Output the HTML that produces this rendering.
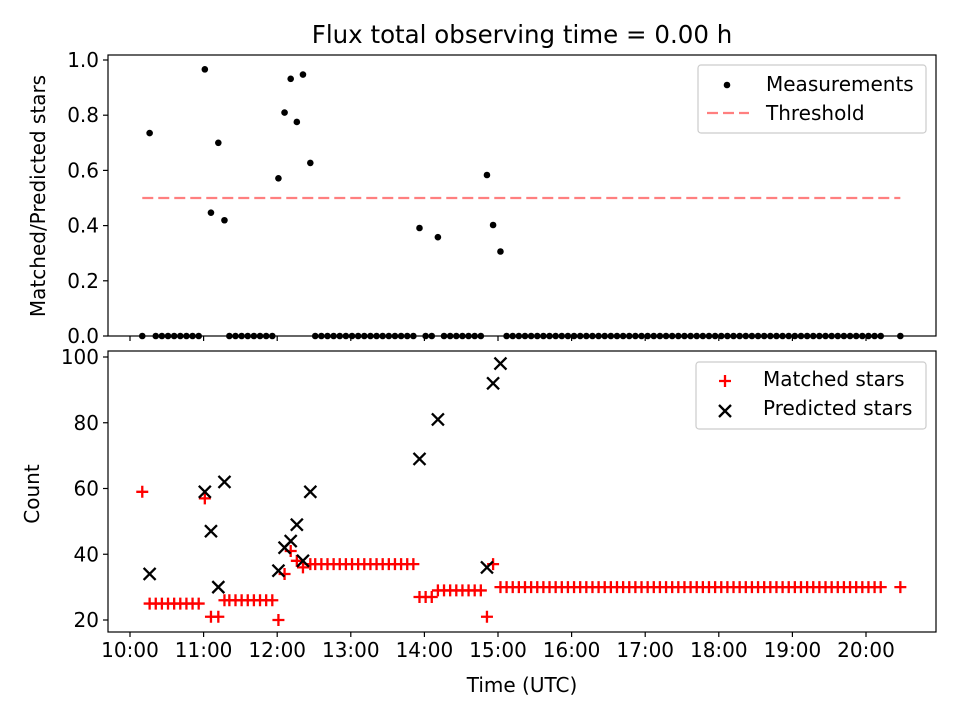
<!DOCTYPE html>
<html><head><meta charset="utf-8">
<style>
html,body{margin:0;padding:0;background:#fff;}
svg{display:block;font-family:"DejaVu Sans","Liberation Sans",sans-serif;}
</style></head>
<body>
<svg id="chart" width="960" height="720" viewBox="0 0 960 720">
<text x="522" y="43" font-size="24.5" text-anchor="middle">Flux total observing time = 0.00 h</text>
<g id="topPanel"></g>
<g id="botPanel"></g>
</svg>
<script>
// minutes after 10:00 UTC
const times = [10,16,21,26,31,36,41,46,51,56,61,66,72,77,81,86,91,96,101,106,111,116,121,126,131,136,141,147,151,156,161,166,171,176,181,186,191,196,201,206,211,216,221,226,231,236,241,246,251,256,261,266,271,276,281,286,291,296,302,
307,312,317,322,327,332,337,342,347,352,357,362,367,372,377,382,387,392,397,402,407,412,417,422,427,432,437,442,447,452,457,462,467,472,477,482,487,492,497,502,507,512,517,522,527,532,537,542,547,552,557,562,567,572,577,582,587,592,597,602,607,612,628];
const matched = [59,25,25,25,25,25,25,25,25,25,57,21,21,26,26,26,26,26,26,26,26,26,20,34,41,38,36,37,37,37,37,37,37,37,37,37,37,37,37,37,37,37,37,37,37,27,27,27,29,29,29,29,29,29,29,29,21,37,30,
30,30,30,30,30,30,30,30,30,30,30,30,30,30,30,30,30,30,30,30,30,30,30,30,30,30,30,30,30,30,30,30,30,30,30,30,30,30,30,30,30,30,30,30,30,30,30,30,30,30,30,30,30,30,30,30,30,30,30,30,30,30,30];
const predicted = [null,34,null,null,null,null,null,null,null,null,59,47,30,62,null,null,null,null,null,null,null,null,35,42,44,49,38,59,null,null,null,null,null,null,null,null,null,null,null,null,null,null,null,null,null,69,null,null,81,null,null,null,null,null,null,null,36,92,98];
const threshold = 0.5;
const yTicksTop = [0.0,0.2,0.4,0.6,0.8,1.0];
const yTicksBot = [20,40,60,80,100];
const xTickLabels = ["10:00","11:00","12:00","13:00","14:00","15:00","16:00","17:00","18:00","19:00","20:00"];

const NS="http://www.w3.org/2000/svg";
const L=108,R=936,FS=20;
const xS=m=>130+m*73.6/60;
const yTop=v=>336-v*276;
const yBot=v=>620-(v-20)*3.2875;
function mk(tag,attrs,parent){const e=document.createElementNS(NS,tag);for(const k in attrs)e.setAttribute(k,attrs[k]);parent.appendChild(e);return e;}
const gTop=document.getElementById('topPanel'), gBot=document.getElementById('botPanel');

function frame(g,y0,y1,name){
  const r=mk('rect',{x:L,y:y0,width:R-L,height:y1-y0,fill:'none',stroke:'#000','stroke-width':1.2},g);
  
  
  xTickLabels.forEach((lab,i)=>{
    const x=xS(i*60);
    const t=mk('line',{x1:x,x2:x,y1:y1,y2:y1+5,stroke:'#000','stroke-width':1.2},g);
    
    
  });
}
frame(gTop,55,336,'ratio-axes-frame');
frame(gBot,351,632,'count-axes-frame');

yTicksTop.forEach(v=>{
  const y=yTop(v);
  const l=mk('line',{x1:L-5,x2:L,y1:y,y2:y,stroke:'#000','stroke-width':1.2},gTop);
  
  
  const t=mk('text',{x:L-9,y:y+7,'font-size':FS,'text-anchor':'end'},gTop);
  t.textContent=v.toFixed(1);
  
  
});
yTicksBot.forEach(v=>{
  const y=yBot(v);
  const l=mk('line',{x1:L-5,x2:L,y1:y,y2:y,stroke:'#000','stroke-width':1.2},gBot);
  
  
  const t=mk('text',{x:L-9,y:y+7,'font-size':FS,'text-anchor':'end'},gBot);
  t.textContent=String(v);
  
  
});
xTickLabels.forEach((lab,i)=>{
  const t=mk('text',{x:xS(i*60),y:657,'font-size':FS,'text-anchor':'middle'},gBot);
  t.textContent=lab;
  
  
});
let t;
t=mk('text',{x:522,y:692,'font-size':FS,'text-anchor':'middle'},gBot);t.textContent='Time (UTC)';


t=mk('text',{x:0,y:0,'font-size':FS,'text-anchor':'middle',transform:'translate(45,196) rotate(-90)'},gTop);t.textContent='Matched/Predicted stars';


t=mk('text',{x:0,y:0,'font-size':FS,'text-anchor':'middle',transform:'translate(39,494) rotate(-90)'},gBot);t.textContent='Count';



// threshold
const th=mk('line',{x1:xS(times[0]),x2:xS(times[times.length-1]),y1:yTop(threshold),y2:yTop(threshold),stroke:'#ff7f7f','stroke-width':2.2,'stroke-dasharray':'11,5'},gTop);



// measurements
times.forEach((m,i)=>{
  const p=predicted[i];
  const ratio=(p!=null)?matched[i]/p:0;
  const c=mk('circle',{cx:xS(m),cy:yTop(ratio),r:3.3,fill:'#000'},gTop);
  
  
});
function plus(g,x,y,col,name){
  const p=mk('path',{d:`M${x-6},${y}H${x+6}M${x},${y-6}V${y+6}`,stroke:col,'stroke-width':2.3,fill:'none'},g);
  
  
}
function cross(g,x,y,name){
  const p=mk('path',{d:`M${x-6},${y-6}L${x+6},${y+6}M${x-6},${y+6}L${x+6},${y-6}`,stroke:'#000','stroke-width':2.3,fill:'none'},g);
  
  
}
times.forEach((m,i)=>plus(gBot,xS(m),yBot(matched[i]),'#f00','matched-marker'));
times.forEach((m,i)=>{const p=predicted[i];if(p!=null)cross(gBot,xS(m),yBot(p),'predicted-marker');});

// legends
function legend(g,x,y,w,h,name){
  const r=mk('rect',{x:x,y:y,width:w,height:h,rx:3,fill:'#fff','fill-opacity':0.8,stroke:'#ccc','stroke-width':1.2},g);
  
  
}
legend(gTop,698,65,228,68,'ratio-legend');
let c=mk('circle',{cx:727,cy:85,r:3.3,fill:'#000'},gTop);


t=mk('text',{x:766,y:91,'font-size':FS},gTop);t.textContent='Measurements';


let ln=mk('line',{x1:707,x2:749,y1:113,y2:113,stroke:'#ff7f7f','stroke-width':2.2,'stroke-dasharray':'11,5'},gTop);


t=mk('text',{x:766,y:120,'font-size':FS},gTop);t.textContent='Threshold';



legend(gBot,696,362,230,67,'count-legend');
plus(gBot,725,381,'#f00','legend-matched-marker');
t=mk('text',{x:763,y:386,'font-size':FS},gBot);t.textContent='Matched stars';


cross(gBot,725,411,'legend-predicted-marker');
t=mk('text',{x:763,y:415,'font-size':FS},gBot);t.textContent='Predicted stars';


</script>
</body></html>
